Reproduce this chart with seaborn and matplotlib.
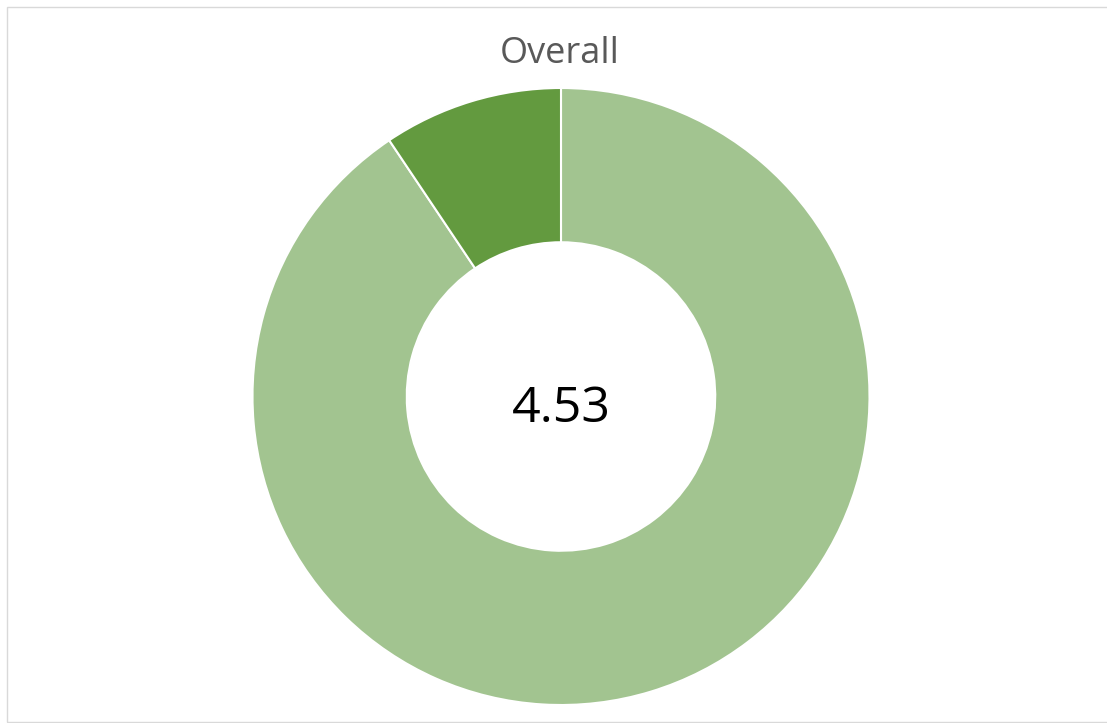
import matplotlib
matplotlib.use("Agg")
import matplotlib.pyplot as plt
import seaborn as sns
from matplotlib.patches import Rectangle

# score out of 5, shown as filled / remaining part of the ring
labels = ["Score", "Remaining"]
values = [4.53, 0.47]
score_text = "4.53"
title = "Overall"
colors = ["#a2c490", "#639a3f"]

sns.set_theme(style="white")
plt.rcParams['font.family'] = ['Open Sans', 'DejaVu Sans']

W, H = 1107, 723
fig = plt.figure(figsize=(W / 100, H / 100), dpi=100)

# chart border (Excel-style chart area)
fig.patches.append(Rectangle((7 / W, 1 - 722 / H), 1.2, (722 - 6.5) / H,
                             transform=fig.transFigure, fill=False,
                             edgecolor="#d9d9d9", linewidth=1.0))

cx, cy, r = 561, 396.5, 308.5
ax = fig.add_axes([(cx - r) / W, (H - cy - r) / H, 2 * r / W, 2 * r / H])
ax.pie(values, colors=colors, startangle=90, counterclock=False, radius=1,
       wedgeprops=dict(width=0.5, edgecolor="white", linewidth=1.5))
ax.set_xlim(-1, 1)
ax.set_ylim(-1, 1)
ax.set_aspect("equal")
ax.axis("off")

ax.text(0, -0.083, score_text, ha="center", va="baseline", fontsize=36, color="black")
fig.text(560 / W, 1 - 63 / H, title, ha="center", va="baseline", fontsize=26, color="#595959")

fig.savefig("out.png", dpi=100)
